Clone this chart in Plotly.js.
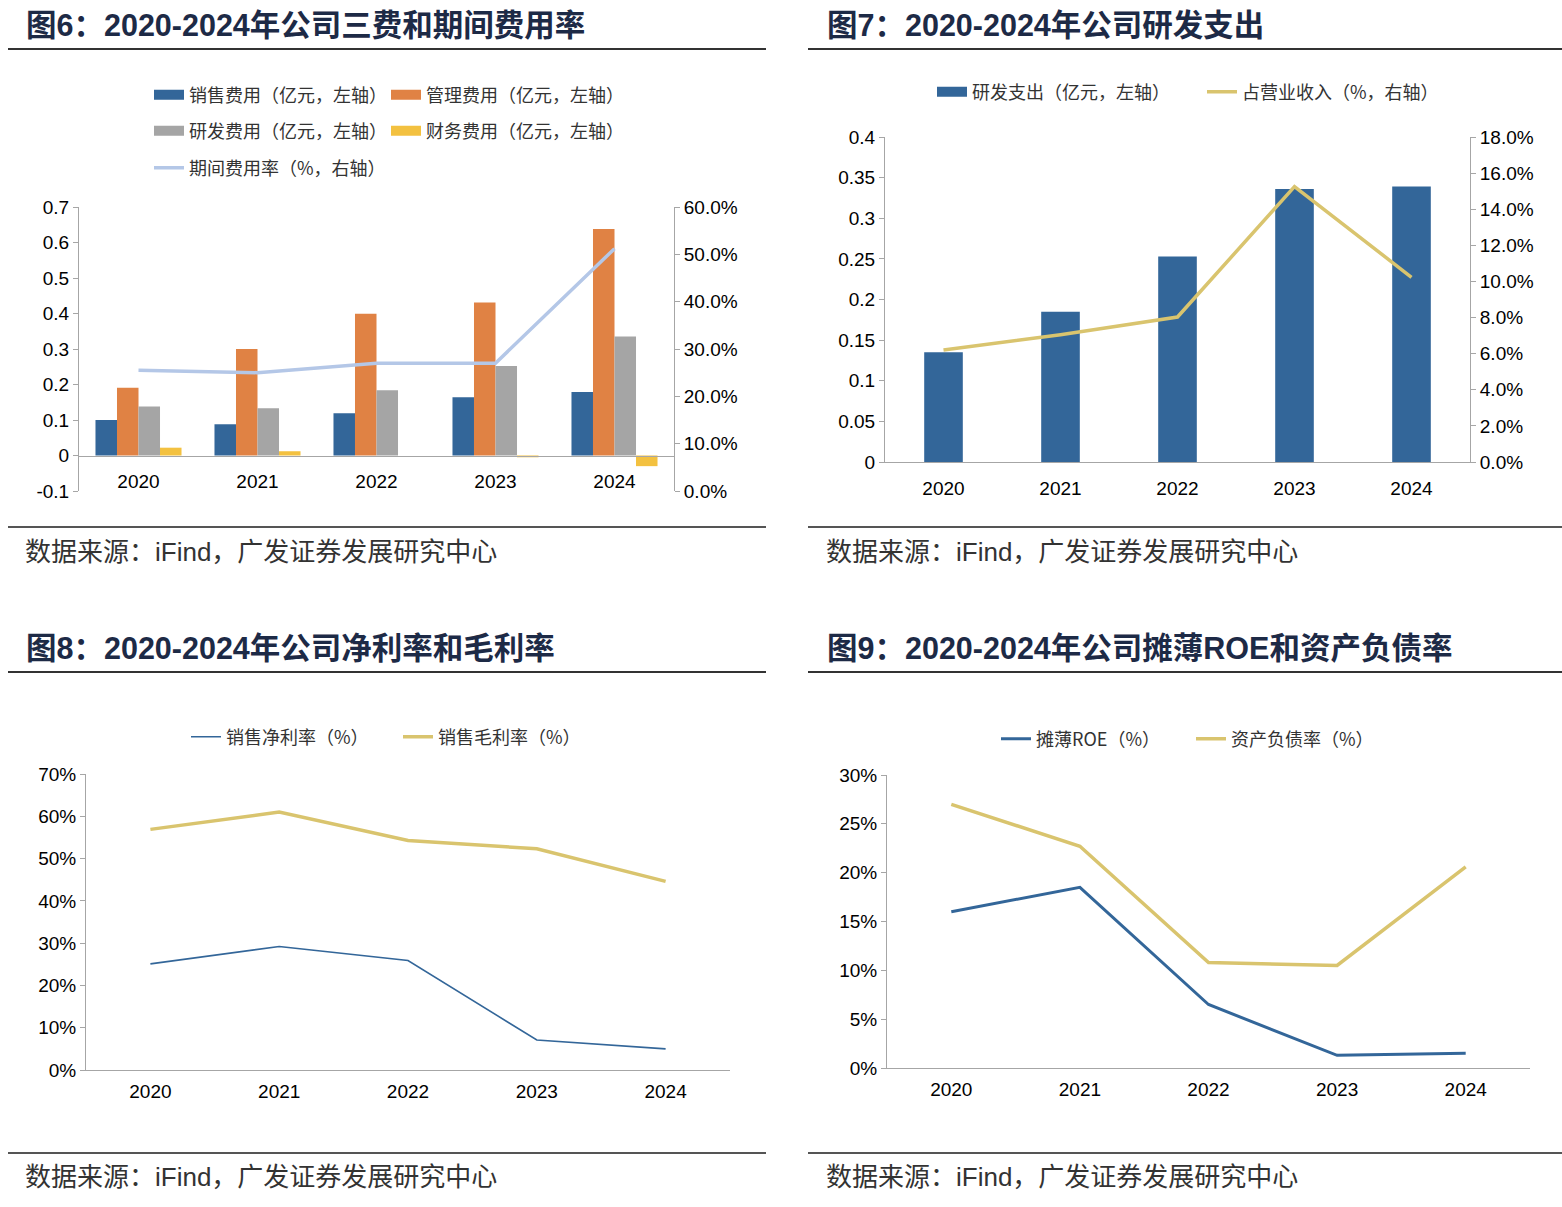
<!DOCTYPE html>
<html>
<head>
<meta charset="utf-8">
<script src="https://cdn.plot.ly/plotly-3.0.1.min.js"></script>
<style>html,body{margin:0;padding:0;background:#fff;}#chart{width:1562px;height:1207px;}</style>
</head>
<body>
<div id="chart"></div>
<script>
// ---------- data ----------
const years = ['2020', '2021', '2022', '2023', '2024'];
// Fig 6 (亿元 / %)
const salesExp   = [0.100, 0.088, 0.119, 0.164, 0.179];
const mgmtExp    = [0.191, 0.300, 0.399, 0.431, 0.638];
const rdExp      = [0.138, 0.133, 0.184, 0.252, 0.335];
const finExp     = [0.022, 0.012, 0.000, -0.005, -0.030];
const periodRate = [25.5, 25.0, 27.0, 27.0, 51.2];
const fig6LeftTickVals = [-0.1, 0, 0.1, 0.2, 0.3, 0.4, 0.5, 0.6, 0.7];
const fig6LeftTickText = ['-0.1', '0', '0.1', '0.2', '0.3', '0.4', '0.5', '0.6', '0.7'];
// Fig 7
const rdSpend = [0.135, 0.185, 0.253, 0.336, 0.339];
const rdRatio = [6.2, 7.05, 8.03, 15.25, 10.23];
// Fig 8
const netMargin   = [25.1, 29.2, 25.9, 7.1, 5.0];
const grossMargin = [56.9, 61.0, 54.3, 52.3, 44.6];
// Fig 9
const roe       = [16.0, 18.5, 6.5, 1.3, 1.5];
const debtRatio = [27.0, 22.7, 10.8, 10.5, 20.6];

const titles = [
  '图6：2020-2024年公司三费和期间费用率',
  '图7：2020-2024年公司研发支出',
  '图8：2020-2024年公司净利率和毛利率',
  '图9：2020-2024年公司摊薄ROE和资产负债率'
];
const sourceText = '数据来源：iFind，广发证券发展研究中心';
const names6 = ['销售费用（亿元，左轴）', '管理费用（亿元，左轴）', '研发费用（亿元，左轴）', '财务费用（亿元，左轴）', '期间费用率（%，右轴）'];
const names7 = ['研发支出（亿元，左轴）', '占营业收入（%，右轴）'];
const names8 = ['销售净利率（%）', '销售毛利率（%）'];
const names9 = ['摊薄ROE（%）', '资产负债率（%）'];

// ---------- layout helpers ----------
const W = 1562, H = 1207;
const fx = p => p / W;
const fy = p => 1 - p / H;
const NARROW = '"Liberation Sans Narrow", "Arial Narrow", "Liberation Sans", Arial, sans-serif';
const CJK = '"Liberation Sans", "Noto Sans CJK SC", sans-serif';
const C = {
  blue: '#336699', orange: '#e08244', gray: '#a5a5a5', yellow: '#f3c140',
  lightBlue: '#b4c7e7', gold: '#d9c46e', axis: '#a6a6a6'
};
const tickFont = {family: NARROW, size: 19, color: '#000'};
const catRange = [-0.5, 4.5];

function yAx(extra) {
  return Object.assign({
    showline: true, linecolor: C.axis, linewidth: 1,
    ticks: 'outside', ticklen: 5, tickcolor: C.axis,
    showgrid: false, zeroline: false, tickfont: tickFont, fixedrange: true
  }, extra);
}
function xAx(extra) {
  return Object.assign({
    type: 'category', range: catRange, showline: true, linecolor: C.axis, linewidth: 1,
    ticks: '', showgrid: false, zeroline: false, tickfont: tickFont, fixedrange: true
  }, extra);
}
function leg(xpx, ypx) {
  return {
    x: fx(xpx - 5), y: fy(ypx), xanchor: 'left', yanchor: 'middle',
    orientation: 'h', bgcolor: 'rgba(0,0,0,0)', borderwidth: 0, itemwidth: 30,
    font: {family: '"Noto Sans CJK SC", sans-serif', size: 18, color: '#333'},
    itemclick: false, itemdoubleclick: false
  };
}
function swatch(name, color, width, legendId, xa, ya) {
  return {type: 'scatter', mode: 'lines', x: [null], y: [null], name: name,
    line: {color: color, width: width}, xaxis: xa, yaxis: ya,
    legend: legendId, showlegend: true, hoverinfo: 'skip'};
}

// panel 1 axis geometry
const p1Top = 207, p1Bot = 491;
const p1Domain = [fy(p1Bot), fy(p1Top)];
const p1Zero = p1Domain[0] + (p1Domain[1] - p1Domain[0]) * (0 - (-0.1)) / 0.8;

const traces = [
  // Fig 6 bars
  {type: 'bar', x: years, y: salesExp, name: names6[0], marker: {color: C.blue}, xaxis: 'x', yaxis: 'y', showlegend: false},
  {type: 'bar', x: years, y: mgmtExp, name: names6[1], marker: {color: C.orange}, xaxis: 'x', yaxis: 'y', showlegend: false},
  {type: 'bar', x: years, y: rdExp, name: names6[2], marker: {color: C.gray}, xaxis: 'x', yaxis: 'y', showlegend: false},
  {type: 'bar', x: years, y: finExp, name: names6[3], marker: {color: C.yellow}, xaxis: 'x', yaxis: 'y', showlegend: false},
  {type: 'scatter', mode: 'lines', x: years, y: periodRate, name: names6[4], line: {color: C.lightBlue, width: 3.5}, xaxis: 'x', yaxis: 'y2', legend: 'legend5'},
  swatch(names6[0], C.blue, 12, 'legend', 'x', 'y'),
  swatch(names6[1], C.orange, 12, 'legend2', 'x', 'y'),
  swatch(names6[2], C.gray, 12, 'legend3', 'x', 'y'),
  swatch(names6[3], C.yellow, 12, 'legend4', 'x', 'y'),
  // Fig 7
  {type: 'bar', x: years, y: rdSpend, name: names7[0], width: 0.33, marker: {color: C.blue}, xaxis: 'x2', yaxis: 'y3', showlegend: false},
  {type: 'scatter', mode: 'lines', x: years, y: rdRatio, name: names7[1], line: {color: C.gold, width: 3.5}, xaxis: 'x2', yaxis: 'y4', legend: 'legend7'},
  swatch(names7[0], C.blue, 12, 'legend6', 'x2', 'y3'),
  // Fig 8
  {type: 'scatter', mode: 'lines', x: years, y: netMargin, name: names8[0], line: {color: C.blue, width: 1.6}, xaxis: 'x3', yaxis: 'y5', legend: 'legend8'},
  {type: 'scatter', mode: 'lines', x: years, y: grossMargin, name: names8[1], line: {color: C.gold, width: 3.5}, xaxis: 'x3', yaxis: 'y5', legend: 'legend9'},
  // Fig 9
  {type: 'scatter', mode: 'lines', x: years, y: roe, name: names9[0], line: {color: C.blue, width: 3}, xaxis: 'x4', yaxis: 'y6', legend: 'legend10'},
  {type: 'scatter', mode: 'lines', x: years, y: debtRatio, name: names9[1], line: {color: C.gold, width: 3.5}, xaxis: 'x4', yaxis: 'y6', legend: 'legend11'}
];

const titleFont = {family: CJK, size: 30.5, color: '#1d2a46'};
const srcFont = {family: '"Liberation Sans", "Noto Sans CJK SC", sans-serif', size: 26, color: '#333'};
function ann(text, xpx, ypx, font) {
  return {text: text, x: fx(xpx), y: fy(ypx), xref: 'paper', yref: 'paper',
    xanchor: 'left', yanchor: 'middle', showarrow: false, font: font};
}
function hline(x0, x1, ypx, color, w) {
  return {type: 'line', xref: 'paper', yref: 'paper', x0: fx(x0), x1: fx(x1), y0: fy(ypx), y1: fy(ypx),
    line: {color: color, width: w}};
}

const layout = {
  width: W, height: H,
  margin: {l: 0, r: 0, t: 0, b: 0, autoexpand: false},
  paper_bgcolor: '#fff', plot_bgcolor: 'rgba(0,0,0,0)',
  barmode: 'group', bargap: 0.277, bargroupgap: 0,
  showlegend: true, hovermode: false,
  // Fig 6
  xaxis: xAx({domain: [fx(79), fx(674)], anchor: 'free', position: p1Zero, ticklabelstandoff: 9}),
  yaxis: yAx({domain: p1Domain, range: [-0.1, 0.7], tickvals: fig6LeftTickVals, ticktext: fig6LeftTickText, anchor: 'x'}),
  yaxis2: yAx({overlaying: 'y', side: 'right', anchor: 'x', range: [0, 60], dtick: 10, tick0: 0, tickformat: '.1f', ticksuffix: '%'}),
  // Fig 7
  xaxis2: xAx({domain: [fx(885), fx(1470)], anchor: 'y3', ticklabelstandoff: 9}),
  yaxis3: yAx({domain: [fy(462), fy(137)], range: [0, 0.4], dtick: 0.05, tick0: 0, anchor: 'x2'}),
  yaxis4: yAx({overlaying: 'y3', side: 'right', anchor: 'x2', range: [0, 18], dtick: 2, tick0: 0, tickformat: '.1f', ticksuffix: '%'}),
  // Fig 8
  xaxis3: xAx({domain: [fx(86), fx(730)], anchor: 'y5', ticklabelstandoff: 4}),
  yaxis5: yAx({domain: [fy(1070), fy(774)], range: [0, 70], dtick: 10, tick0: 0, ticksuffix: '%', anchor: 'x3'}),
  // Fig 9
  xaxis4: xAx({domain: [fx(887), fx(1530)], anchor: 'y6', ticklabelstandoff: 4}),
  yaxis6: yAx({domain: [fy(1068), fy(775)], range: [0, 30], dtick: 5, tick0: 0, ticksuffix: '%', anchor: 'x4'}),
  legend: leg(154, 95), legend2: leg(391, 95), legend3: leg(154, 131), legend4: leg(391, 131), legend5: leg(154, 168),
  legend6: leg(937, 92), legend7: leg(1207, 92),
  legend8: leg(191, 737), legend9: leg(403, 737),
  legend10: leg(1001, 739), legend11: leg(1196, 739),
  annotations: [
    ann('<b>' + titles[0] + '</b>', 24, 25, titleFont),
    ann('<b>' + titles[1] + '</b>', 825, 25, titleFont),
    ann('<b>' + titles[2] + '</b>', 24, 648, titleFont),
    ann('<b>' + titles[3] + '</b>', 825, 648, titleFont),
    ann(sourceText, 23, 552, srcFont),
    ann(sourceText, 824, 552, srcFont),
    ann(sourceText, 23, 1177, srcFont),
    ann(sourceText, 824, 1177, srcFont)
  ],
  shapes: [
    hline(8, 766, 49, '#333', 2), hline(808, 1562, 49, '#333', 2),
    hline(8, 766, 527, '#555', 2), hline(808, 1562, 527, '#555', 2),
    hline(8, 766, 672, '#333', 2), hline(808, 1562, 672, '#333', 2),
    hline(8, 766, 1153, '#555', 2), hline(808, 1562, 1153, '#555', 2)
  ]
};

Plotly.newPlot('chart', traces, layout, {displayModeBar: false, staticPlot: true});
</script>
</body>
</html>
